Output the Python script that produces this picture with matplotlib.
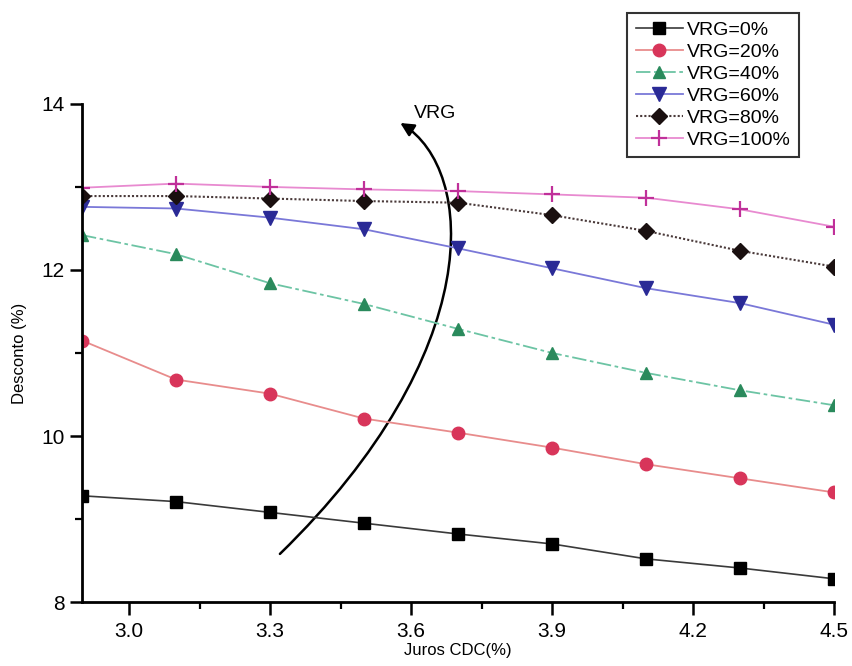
import numpy as np
import matplotlib
matplotlib.use("Agg")
import matplotlib.pyplot as plt
from matplotlib.path import Path
from matplotlib.patches import FancyArrowPatch
from matplotlib.ticker import MultipleLocator

plt.rcParams['font.family'] = ['Liberation Sans', 'DejaVu Sans']

# Juros CDC (%)
juros = [2.9, 3.1, 3.3, 3.5, 3.7, 3.9, 4.1, 4.3, 4.5]

# Desconto (%) for each VRG level
vrg_0 = [9.28, 9.21, 9.08, 8.95, 8.82, 8.70, 8.52, 8.41, 8.28]
vrg_20 = [11.15, 10.68, 10.51, 10.21, 10.04, 9.86, 9.66, 9.49, 9.32]
vrg_40 = [12.42, 12.19, 11.84, 11.59, 11.29, 11.00, 10.76, 10.55, 10.37]
vrg_60 = [12.76, 12.74, 12.63, 12.49, 12.26, 12.02, 11.78, 11.60, 11.34]
vrg_80 = [12.89, 12.89, 12.86, 12.83, 12.81, 12.66, 12.47, 12.23, 12.04]
vrg_100 = [12.99, 13.04, 13.00, 12.97, 12.95, 12.91, 12.87, 12.73, 12.52]

labels = ["VRG=0%", "VRG=20%", "VRG=40%", "VRG=60%", "VRG=80%", "VRG=100%"]

fig = plt.figure(figsize=(8.52, 6.66), dpi=100)
ax = fig.add_axes([0.0962, 0.096, 0.883, 0.748])

# one line per VRG level
ax.plot(juros, vrg_0, color="#3a3a3a", lw=1.2, marker="s", ms=8,
        mfc="black", mec="black", label=labels[0])
ax.plot(juros, vrg_20, color="#e88c8c", lw=1.3, marker="o", ms=9,
        mfc="#d8355a", mec="#d8355a", label=labels[1])
ax.plot(juros, vrg_40, color="#6cc4a4", lw=1.3, ls=(0, (8, 2, 2, 2)), marker="^", ms=9,
        mfc="#2a8a5c", mec="#2a8a5c", label=labels[2])
ax.plot(juros, vrg_60, color="#7a78d8", lw=1.3, marker="v", ms=10,
        mfc="#2a2a96", mec="#2a2a96", label=labels[3])
ax.plot(juros, vrg_80, color="#4a3a3a", lw=1.5, ls=(0, (1, 1)), marker="D", ms=8,
        mfc="#1a1010", mec="#1a1010", label=labels[4])
ax.plot(juros, vrg_100, color="#e88ad0", lw=1.3, marker="+", ms=11, mew=1.6,
        mec="#c0309a", label=labels[5])

ax.set_xlim(2.9, 4.5)
ax.set_ylim(8, 14)
ax.set_xticks([3.0, 3.3, 3.6, 3.9, 4.2, 4.5])
ax.xaxis.set_minor_locator(MultipleLocator(0.15))
ax.set_yticks([8, 10, 12, 14])
ax.yaxis.set_minor_locator(MultipleLocator(1))

for side in ["top", "right"]:
    ax.spines[side].set_visible(False)
for side in ["left", "bottom"]:
    ax.spines[side].set_linewidth(2)

ax.tick_params(axis="both", which="major", direction="out", length=9, width=1.8, labelsize=15)
ax.tick_params(axis="both", which="minor", direction="out", length=5, width=1.6)
ax.tick_params(axis="x", pad=5)

ax.set_xlabel("Juros CDC(%)", fontsize=12, labelpad=2)
ax.set_ylabel("Desconto (%)", fontsize=12, labelpad=10)

# curved arrow showing increasing VRG
verts = [(3.321, 8.58), (3.76, 11.0), (3.74, 13.2), (3.577, 13.77)]
arc = Path(verts, [Path.MOVETO, Path.CURVE4, Path.CURVE4, Path.CURVE4])
ax.add_patch(FancyArrowPatch(path=arc, arrowstyle="-|>", mutation_scale=20,
                             color="black", lw=1.8, clip_on=False))
ax.text(3.65, 13.88, "VRG", fontsize=14, ha="center", va="center")

leg = ax.legend(loc="upper left", bbox_to_anchor=(0.725, 1.183), fontsize=14,
                frameon=True, fancybox=False, edgecolor="black",
                handlelength=2.4, handletextpad=0.2, borderpad=0.45,
                labelspacing=0.22, borderaxespad=0)
leg.get_frame().set_linewidth(1.5)

fig.savefig("out.png", dpi=100)
